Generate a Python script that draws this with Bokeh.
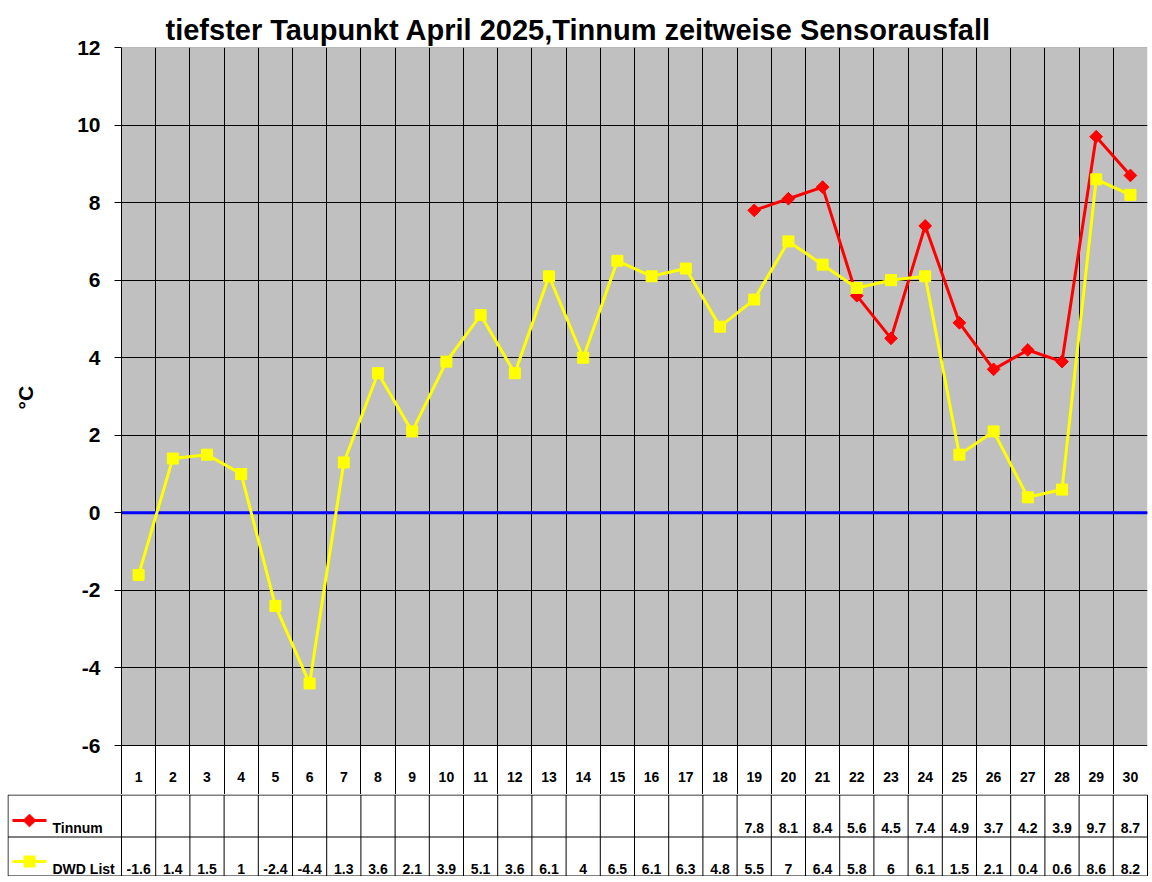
import math
from bokeh.plotting import figure
from bokeh.models import Range1d, FixedTicker, Span
from bokeh.core.properties import value
from bokeh.embed import file_html
from bokeh.resources import INLINE

nan = float("nan")

# Tage im April
days = list(range(1, 31))
# tiefster Taupunkt in °C
tinnum = [nan] * 18 + [7.8, 8.1, 8.4, 5.6, 4.5, 7.4, 4.9, 3.7, 4.2, 3.9, 9.7, 8.7]
dwd = [-1.6, 1.4, 1.5, 1, -2.4, -4.4, 1.3, 3.6, 2.1, 3.9, 5.1, 3.6, 6.1, 4, 6.5,
       6.1, 6.3, 4.8, 5.5, 7, 6.4, 5.8, 6, 6.1, 1.5, 2.1, 0.4, 0.6, 8.6, 8.2]
y_ticks = [-6, -4, -2, 0, 2, 4, 6, 8, 10, 12]
series_names = ["Tinnum", "DWD List"]

FONT = "Liberation Sans"
RED = "#FF0000"
YELLOW = "#FFFF00"

# Seitenpixel: Diagrammfläche 121..1147 x 47..745, Kategoriezeile bis 794
ppu = (745 - 47) / (y_ticks[-1] - y_ticks[0])
cw = (1147 - 121) / 30
y_bottom = y_ticks[0] - (794 - 745) / ppu
bounds = [d - 0.5 for d in days] + [days[-1] + 0.5]

# --- Diagramm ---
p = figure(width=1150, height=794, x_range=Range1d(0.5, 30.5), y_range=Range1d(y_bottom, 12),
           output_backend="svg", toolbar_location=None, x_axis_location=None,
           min_border_left=121, min_border_right=3, min_border_top=47, min_border_bottom=0,
           title="tiefster Taupunkt April 2025,Tinnum zeitweise Sensorausfall")
p.background_fill_color = "white"
p.border_fill_color = "white"
p.outline_line_color = None

p.title.text_font = FONT
p.title.text_font_size = "29px"
p.title.text_font_style = "bold"
p.title.text_color = "black"
p.title.align = "left"
p.title.offset = 44
p.title.standoff = 4

p.yaxis.ticker = FixedTicker(ticks=y_ticks)
p.yaxis.major_label_overrides = {t: str(t) for t in y_ticks}
p.yaxis.minor_tick_line_color = None
p.yaxis.major_tick_in = 0
p.yaxis.major_tick_out = 7
p.yaxis.major_tick_line_color = "black"
p.yaxis.axis_line_color = "black"
p.yaxis.major_label_text_font = FONT
p.yaxis.major_label_text_font_size = "21px"
p.yaxis.major_label_text_font_style = "bold"
p.yaxis.major_label_text_color = "black"
p.yaxis.major_label_standoff = 14
# geschützte Leerzeichen schieben den Titel zur Mitte der grauen Fläche
p.yaxis.axis_label = "\u00a0" * 8 + "°C"
p.yaxis.axis_label_text_font = FONT
p.yaxis.axis_label_text_font_size = "21px"
p.yaxis.axis_label_text_font_style = "bold"
p.yaxis.axis_label_text_color = "black"
p.yaxis.axis_label_standoff = 37

# graue Diagrammfläche
p.quad(left=[bounds[0]], right=[bounds[-1]], bottom=[y_ticks[0]], top=[y_ticks[-1]],
       fill_color="#C0C0C0", line_color=None, level="underlay")

p.ygrid.ticker = FixedTicker(ticks=y_ticks[:-1])
p.ygrid.grid_line_color = "black"
p.ygrid.grid_line_width = 1
p.xgrid.ticker = FixedTicker(ticks=bounds)
p.xgrid.grid_line_color = "black"
p.xgrid.grid_line_width = 1
p.add_layout(Span(location=y_ticks[-1], dimension="width", line_color="#808080", line_width=1))

p.add_layout(Span(location=0, dimension="width", line_color="#0000FF", line_width=3,
                  level="underlay"))

p.line(days, tinnum, line_color=RED, line_width=3)
p.scatter(days, tinnum, marker="square", angle=math.pi / 4, size=9,
          fill_color=RED, line_color=RED)
p.line(days, dwd, line_color=YELLOW, line_width=3)
p.scatter(days, dwd, marker="square", size=11, fill_color=YELLOW, line_color=YELLOW)

text_kw = dict(text_font=value(FONT), text_font_size="14px", text_font_style="bold",
               text_color="black", text_baseline="middle")
p.text(x=days, y=[y_ticks[0] - (776 - 745) / ppu] * 30, text=[str(d) for d in days],
       text_align="center", **text_kw)

# --- Datentabelle (Seite 794..876) ---
tx0 = 0.5 - (121 - 7) / cw
tx1 = 30.5 + 2 / cw
TH = 82
t = figure(width=1150, height=TH, x_range=Range1d(tx0, tx1), y_range=Range1d(0, TH),
           output_backend="svg", toolbar_location=None, x_axis_location=None,
           y_axis_location=None, min_border=0, min_border_left=7, min_border_right=1)
t.outline_line_color = None
t.background_fill_color = "white"
t.border_fill_color = "white"
t.grid.grid_line_color = None


def tx(px):
    return tx0 + (px - 7) / cw


def ty(py):
    return 876 - py


rows = [794.5, 836.5, 875.5]
t.segment(x0=bounds, y0=[ty(rows[0])] * len(bounds), x1=bounds, y1=[ty(rows[-1])] * len(bounds),
          line_color="black", line_width=1)
t.segment(x0=[tx(7.5)] * 4, y0=[ty(r) for r in rows] + [ty(rows[0])],
          x1=[30.5] * 3 + [tx(7.5)], y1=[ty(r) for r in rows] + [ty(rows[-1])],
          line_color="black", line_width=1)


def fmt(v):
    if v != v:
        return ""
    return str(int(v)) if float(v).is_integer() else str(v)


t.text(x=days, y=[ty(827)] * 30, text=[fmt(v) for v in tinnum], text_align="center", **text_kw)
t.text(x=days, y=[ty(868)] * 30, text=[fmt(v) for v in dwd], text_align="center", **text_kw)

# Legendenschlüssel
t.line([tx(12), tx(46)], [ty(820), ty(820)], line_color=RED, line_width=3)
t.scatter([tx(29)], [ty(820)], marker="square", angle=math.pi / 4, size=9,
          fill_color=RED, line_color=RED)
t.line([tx(12), tx(46)], [ty(861), ty(861)], line_color=YELLOW, line_width=3)
t.scatter([tx(29)], [ty(861)], marker="square", size=11, fill_color=YELLOW, line_color=YELLOW)
t.text(x=[tx(52), tx(52)], y=[ty(827), ty(868)], text=series_names, text_align="left", **text_kw)

open("out.html", "w").write(file_html([p, t], INLINE))
